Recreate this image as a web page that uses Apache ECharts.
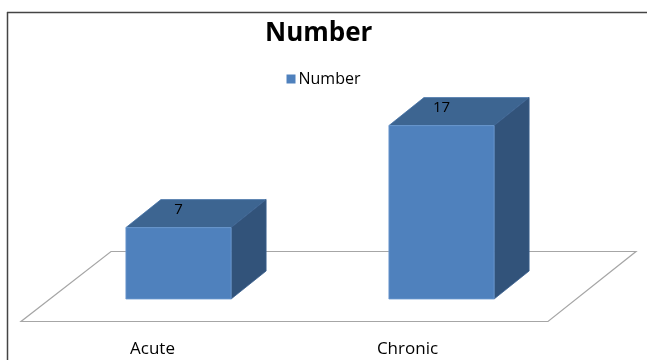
<!DOCTYPE html>
<html>
<head>
<meta charset="utf-8">
<style>
  html, body { margin: 0; padding: 0; background: #fff; }
  #chart { width: 647px; height: 360px; }
</style>
<script src="https://cdn.jsdelivr.net/npm/echarts@6/dist/echarts.min.js"></script>
</head>
<body>
<div id="chart"></div>
<script>
// Chart data
const categories = ['Acute', 'Chronic'];
const seriesName = 'Number';
const values = [7, 17];

// Box depth offset (pseudo-3D) in pixels
const DEPTH_X = 35;
const DEPTH_Y = -28;
const FONT = '"Open Sans", "Noto Sans", sans-serif';

const chart = echarts.init(document.getElementById('chart'), null, { renderer: 'canvas' });

function renderBox(params, api) {
  const cat = api.value(0);
  const v = api.value(1);
  const top = api.coord([cat, v]);
  const base = api.coord([cat, 0]);
  const w = api.size([1, 0])[0] * 0.4;
  const x0 = top[0] - w / 2;
  const x1 = top[0] + w / 2;
  const yt = top[1];
  const yb = base[1];
  return {
    type: 'group',
    children: [
      {
        type: 'polygon',
        shape: { points: [[x0, yt], [x1, yt], [x1 + DEPTH_X, yt + DEPTH_Y], [x0 + DEPTH_X, yt + DEPTH_Y]] },
        style: { fill: '#3d6591', stroke: '#4a76aa', lineWidth: 0.8 }
      },
      {
        type: 'polygon',
        shape: { points: [[x1, yt], [x1 + DEPTH_X, yt + DEPTH_Y], [x1 + DEPTH_X, yb + DEPTH_Y], [x1, yb]] },
        style: { fill: '#32537a', stroke: '#3c6290', lineWidth: 0.8 }
      },
      {
        type: 'rect',
        shape: { x: x0, y: yt, width: w, height: yb - yt },
        style: { fill: '#4f81bd', stroke: '#6d9ad0', lineWidth: 0.8 }
      },
      {
        type: 'text',
        style: {
          text: String(v),
          x: top[0],
          y: yt - 18,
          align: 'center',
          verticalAlign: 'middle',
          fill: '#000',
          font: '15px ' + FONT
        }
      }
    ]
  };
}

chart.setOption({
  animation: false,
  backgroundColor: '#fff',
  title: {
    text: seriesName,
    left: 260,
    top: 16,
    textStyle: { fontFamily: FONT, fontSize: 26, fontWeight: 'bold', color: '#000' }
  },
  legend: {
    data: [{ name: seriesName, icon: 'rect' }],
    top: 66,
    left: 'center',
    itemWidth: 9,
    itemHeight: 9,
    itemGap: 4,
    textStyle: { fontFamily: FONT, fontSize: 16, color: '#000', padding: [0, 0, 0, -2] }
  },
  grid: [
    { left: 47, top: 95, width: 526, height: 204 },
    { left: 25, top: 300, width: 510, height: 30 }
  ],
  xAxis: [
    { gridIndex: 0, type: 'category', data: categories, show: false },
    {
      gridIndex: 1, type: 'category', data: categories,
      axisLine: { show: false }, axisTick: { show: false },
      axisLabel: { margin: 11, fontFamily: FONT, fontSize: 17, color: '#000' }
    }
  ],
  yAxis: [
    { gridIndex: 0, type: 'value', min: 0, max: 20, show: false },
    { gridIndex: 1, type: 'value', show: false }
  ],
  graphic: [
    // outer frame (top and left edges)
    { type: 'line', shape: { x1: 7, y1: 12.5, x2: 647, y2: 12.5 }, style: { stroke: '#444', lineWidth: 1.5 }, z: 1 },
    { type: 'line', shape: { x1: 7.5, y1: 12, x2: 7.5, y2: 360 }, style: { stroke: '#444', lineWidth: 1.5 }, z: 1 },
    // floor plane
    {
      type: 'polygon',
      shape: { points: [[21, 321.5], [548, 321.5], [636, 251.5], [111, 251.5]] },
      style: { fill: '#fff', stroke: '#a6a6a6', lineWidth: 1.2 },
      z: 0
    }
  ],
  series: [
    {
      name: seriesName,
      type: 'custom',
      xAxisIndex: 0,
      yAxisIndex: 0,
      itemStyle: { color: '#4f81bd' },
      renderItem: renderBox,
      data: categories.map((c, i) => [i, values[i]]),
      z: 5
    }
  ]
});
</script>
</body>
</html>
